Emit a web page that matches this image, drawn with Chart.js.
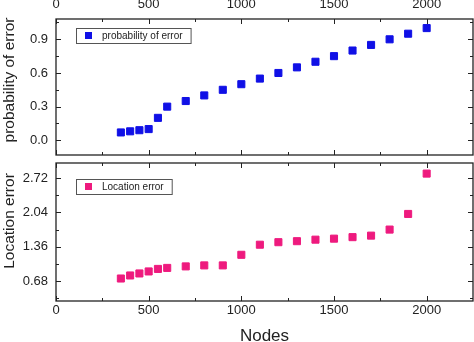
<!DOCTYPE html>
<html>
<head>
<meta charset="utf-8">
<script src="https://cdn.jsdelivr.net/npm/chart.js@4/dist/chart.umd.min.js"></script>
<style>
  html, body { margin: 0; padding: 0; background: #fff; }
  #wrap { position: relative; width: 474px; height: 342px; }
  #topBox { position: absolute; left: 0; top: 0; width: 474px; height: 160px; }
  #botBox { position: absolute; left: 0; top: 160px; width: 474px; height: 182px; }
</style>
</head>
<body>
<div id="wrap">
  <div id="topBox"><canvas id="errChart"></canvas></div>
  <div id="botBox"><canvas id="locChart"></canvas></div>
</div>
<script>
// data
const nodes = [350, 400, 450, 500, 550, 600, 700, 800, 900, 1000, 1100, 1200, 1300, 1400, 1500, 1600, 1700, 1800, 1900, 2000];
const probError = [0.07, 0.08, 0.09, 0.10, 0.20, 0.30, 0.35, 0.40, 0.45, 0.50, 0.55, 0.60, 0.65, 0.70, 0.75, 0.80, 0.85, 0.90, 0.95, 1.00];
const locError = [0.73, 0.79, 0.83, 0.87, 0.92, 0.94, 0.97, 0.99, 0.99, 1.20, 1.40, 1.45, 1.47, 1.50, 1.52, 1.55, 1.58, 1.70, 2.01, 2.81];

const xTicks = [0, 500, 1000, 1500, 2000];
const xMinor = [250, 750, 1250, 1750];
const probTicks = [0.0, 0.3, 0.6, 0.9];
const probMinor = [-0.15, 0.15, 0.45, 0.75, 1.05];
const locTicks = [0.68, 1.36, 2.04, 2.72];
const locMinor = [0.34, 1.02, 1.70, 2.38];

const FONT = 'Liberation Sans, Arial, sans-serif';
const INK = '#222';

// no extra padding for edge labels, the plot box is placed by hand
const noPad = s => { s.paddingLeft = s.paddingRight = s.paddingTop = s.paddingBottom = 0; };

// frame + inward ticks on all four sides, boxed legend, y title
const framePlugin = {
  id: 'frame',
  afterDraw(chart, args, opts) {
    const { ctx, chartArea: a, scales } = chart;
    const xs = scales.x, ys = scales.y;
    ctx.save();
    ctx.strokeStyle = INK;
    ctx.lineWidth = 1.3;
    ctx.strokeRect(a.left, a.top, a.right - a.left, a.bottom - a.top);
    ctx.lineWidth = 1;
    ctx.beginPath();
    const xt = (v, len) => {
      const px = Math.round(xs.getPixelForValue(v)) + 0.5;
      if (px < a.left || px > a.right) return;
      ctx.moveTo(px, a.top); ctx.lineTo(px, a.top + len);
      ctx.moveTo(px, a.bottom); ctx.lineTo(px, a.bottom - len);
    };
    const yt = (v, len) => {
      const py = Math.round(ys.getPixelForValue(v)) + 0.5;
      if (py < a.top || py > a.bottom) return;
      ctx.moveTo(a.left, py); ctx.lineTo(a.left + len, py);
      ctx.moveTo(a.right, py); ctx.lineTo(a.right - len, py);
    };
    xTicks.forEach(v => xt(v, 5));
    xMinor.forEach(v => xt(v, 3));
    opts.major.forEach(v => yt(v, 5));
    opts.minor.forEach(v => yt(v, 3));
    ctx.stroke();

    // boxed legend
    const ds = chart.data.datasets[0];
    const lx = a.left + opts.legend.x, ly = a.top + opts.legend.y;
    ctx.font = '10px ' + FONT;
    const w = ctx.measureText(ds.label).width + 34;
    const h = 15;
    ctx.strokeStyle = '#555';
    ctx.strokeRect(lx + 0.5, ly + 0.5, w, h);
    ctx.fillStyle = ds.backgroundColor;
    ctx.fillRect(lx + 9, ly + 4, 7, 7);
    ctx.fillStyle = INK;
    ctx.textBaseline = 'middle';
    ctx.fillText(ds.label, lx + 26, ly + h / 2 + 1);

    // y axis title, sits a bit above the plot centre like the original
    ctx.translate(10, opts.titleY);
    ctx.rotate(-Math.PI / 2);
    ctx.font = '15.5px ' + FONT;
    ctx.textAlign = 'center';
    ctx.fillText(opts.title, 0, 0);
    ctx.restore();
  }
};

function makeChart(id, cfg) {
  return new Chart(document.getElementById(id), {
    type: 'scatter',
    data: {
      datasets: [{
        label: cfg.label,
        data: nodes.map((n, i) => ({ x: n, y: cfg.values[i] })),
        backgroundColor: cfg.color,
        borderColor: cfg.color,
        pointStyle: 'rect',
        pointRadius: 5,
        pointHoverRadius: 5
      }]
    },
    options: {
      responsive: true,
      maintainAspectRatio: false,
      animation: false,
      layout: { padding: cfg.padding, autoPadding: false },
      plugins: {
        legend: { display: false },
        tooltip: { enabled: false },
        frame: { major: cfg.yTicks, minor: cfg.yMinor, legend: cfg.legendPos, title: cfg.yTitle, titleY: cfg.yTitleAt }
      },
      scales: {
        x: {
          type: 'linear',
          position: cfg.xPos,
          min: 0,
          max: 2250,
          grid: { display: false, drawTicks: false },
          border: { display: false },
          afterBuildTicks: s => { s.ticks = xTicks.map(v => ({ value: v })); },
          afterFit: s => { s.height = cfg.xHeight; noPad(s); },
          ticks: {
            padding: cfg.xPad,
            color: INK,
            maxRotation: 0,
            font: { family: FONT, size: 13 },
            callback: v => String(v)
          },
          title: {
            display: !!cfg.xTitle,
            text: cfg.xTitle || '',
            color: INK,
            font: { family: FONT, size: 17, lineHeight: 1 },
            padding: { top: 0, bottom: -3 }
          }
        },
        y: {
          type: 'linear',
          min: cfg.yMin,
          max: cfg.yMax,
          grid: { display: false, drawTicks: false },
          border: { display: false },
          afterBuildTicks: s => { s.ticks = cfg.yTicks.map(v => ({ value: v })); },
          afterFit: s => { s.width = 56; noPad(s); },
          ticks: {
            padding: 8,
            color: INK,
            font: { family: FONT, size: 13 },
            callback: v => v.toFixed(cfg.dec)
          }
        }
      }
    },
    plugins: [framePlugin]
  });
}

makeChart('errChart', {
  label: 'probability of error',
  values: probError,
  color: '#1010e6',
  yMin: -0.131, yMax: 1.081,
  yTicks: probTicks, yMinor: probMinor, dec: 1,
  yTitle: 'probability of error', yTitleAt: 80,
  xPos: 'top', xHeight: 19, xPad: 7,
  padding: { top: 0, bottom: 5, left: 0, right: 1 },
  legendPos: { x: 20, y: 9 }
});

makeChart('locChart', {
  label: 'Location error',
  values: locError,
  color: '#ee1a7e',
  yMin: 0.284, yMax: 3.02,
  yTicks: locTicks, yMinor: locMinor, dec: 2,
  yTitle: 'Location error', yTitleAt: 61,
  xPos: 'bottom', xHeight: 41, xPad: 2, xTitle: 'Nodes',
  padding: { top: 3, bottom: 0, left: 0, right: 1 },
  legendPos: { x: 20, y: 16 }
});
</script>
</body>
</html>
